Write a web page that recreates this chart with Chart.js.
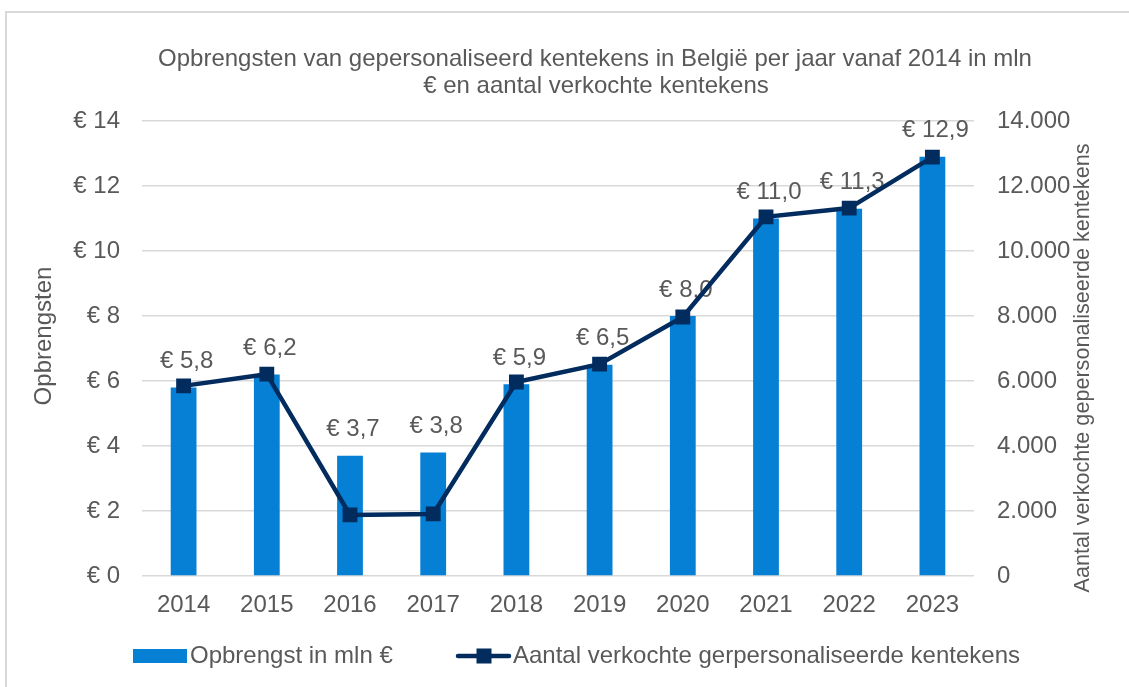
<!DOCTYPE html>
<html>
<head>
<meta charset="utf-8">
<script src="https://cdn.jsdelivr.net/npm/chart.js@4.4.1/dist/chart.umd.min.js"></script>
<style>
  html, body { margin: 0; padding: 0; background: #ffffff; }
  #wrap { width: 1129px; height: 687px; position: relative; }
</style>
</head>
<body>
<div id="wrap"><canvas id="c" width="1129" height="687"></canvas></div>
<script>
const years = ['2014', '2015', '2016', '2017', '2018', '2019', '2020', '2021', '2022', '2023'];
const revenue = [5.8, 6.2, 3.7, 3.8, 5.9, 6.5, 8.0, 11.0, 11.3, 12.9];
const platesSold = [5850, 6210, 1880, 1910, 5970, 6520, 7970, 11050, 11320, 12890];
const titleLines = ['Opbrengsten van gepersonaliseerd kentekens in België per jaar vanaf 2014 in mln', '€ en aantal verkochte kentekens'];
const seriesNames = ['Opbrengst in mln €', 'Aantal verkochte gerpersonaliseerde kentekens'];
const leftAxisTitle = 'Opbrengsten';
const rightAxisTitle = 'Aantal verkochte gepersonaliseerde kentekens';

const FONT = '"Liberation Sans", Arial, sans-serif';
const FS = 24;
const TEXT = '#595959';
const BAR = '#0580D5';
const NAVY = '#022B5E';
const GRID = '#D9D9D9';

function fmtThousands(v) {
  return String(Math.round(v)).replace(/\B(?=(\d{3})+(?!\d))/g, '.');
}
function fmtEuro(v) {
  return '€ ' + v.toFixed(1).replace('.', ',');
}

const decor = {
  id: 'decor',
  beforeDraw(chart) {
    const ctx = chart.ctx;
    ctx.save();
    ctx.fillStyle = '#ffffff';
    ctx.fillRect(0, 0, chart.width, chart.height);
    ctx.strokeStyle = '#D9D9D9';
    ctx.lineWidth = 2;
    ctx.strokeRect(6, 12, 1140, 700);
    ctx.fillStyle = TEXT;
    ctx.font = FS + 'px ' + FONT;
    ctx.textAlign = 'center';
    ctx.textBaseline = 'middle';
    ctx.fillText(titleLines[0], 595, 59);
    ctx.fillText(titleLines[1], 596, 86);
    // left axis title
    ctx.save();
    ctx.translate(44, 336);
    ctx.rotate(-Math.PI / 2);
    ctx.fillText(leftAxisTitle, 0, 0);
    ctx.restore();
    // right axis title, reading bottom to top
    ctx.save();
    ctx.font = '21.6px ' + FONT;
    ctx.translate(1083, 368);
    ctx.rotate(-Math.PI / 2);
    ctx.fillText(rightAxisTitle, 0, 0);
    ctx.restore();
    ctx.restore();
  },
  afterDatasetDraw(chart, args) {
    if (args.index !== 0) return;
    const ctx = chart.ctx;
    const meta = chart.getDatasetMeta(0);
    ctx.save();
    ctx.fillStyle = TEXT;
    ctx.font = FS + 'px ' + FONT;
    ctx.textAlign = 'center';
    ctx.textBaseline = 'middle';
    meta.data.forEach((bar, i) => {
      ctx.fillText(fmtEuro(revenue[i]), bar.x + 3, bar.y - 26);
    });
    ctx.restore();
  },
  afterDraw(chart) {
    const ctx = chart.ctx;
    ctx.save();
    const ly = 656;
    ctx.fillStyle = BAR;
    ctx.fillRect(133, ly - 7, 54, 14);
    ctx.fillStyle = TEXT;
    ctx.font = FS + 'px ' + FONT;
    ctx.textAlign = 'left';
    ctx.textBaseline = 'middle';
    ctx.fillText(seriesNames[0], 190, ly);
    ctx.strokeStyle = NAVY;
    ctx.lineWidth = 4.5;
    ctx.lineCap = 'round';
    ctx.beginPath();
    ctx.moveTo(458, ly);
    ctx.lineTo(509, ly);
    ctx.stroke();
    ctx.fillStyle = NAVY;
    ctx.fillRect(484 - 7.5, ly - 7.5, 15, 15);
    ctx.fillStyle = TEXT;
    ctx.fillText(seriesNames[1], 513, ly);
    ctx.restore();
  }
};

new Chart(document.getElementById('c'), {
  data: {
    labels: years,
    datasets: [
      {
        type: 'bar',
        label: seriesNames[0],
        data: revenue,
        backgroundColor: BAR,
        yAxisID: 'y',
        order: 2,
        barPercentage: 0.31,
        categoryPercentage: 1.0
      },
      {
        type: 'line',
        label: seriesNames[1],
        data: platesSold,
        borderColor: NAVY,
        backgroundColor: NAVY,
        borderWidth: 4.5,
        pointStyle: 'rect',
        pointRadius: 10.5,
        pointBorderWidth: 0,
        pointBackgroundColor: NAVY,
        tension: 0,
        yAxisID: 'y2',
        order: 1
      }
    ]
  },
  options: {
    responsive: false,
    animation: false,
    devicePixelRatio: 1,
    layout: { padding: { top: 121, bottom: 0, left: 0, right: 0 } },
    plugins: {
      legend: { display: false },
      title: { display: false },
      tooltip: { enabled: false }
    },
    scales: {
      x: {
        grid: { display: false },
        border: { display: false },
        ticks: { color: TEXT, font: { family: FONT, size: FS }, padding: 7, maxRotation: 0 },
        afterFit(s) { s.height = 111; }
      },
      y: {
        position: 'left',
        min: 0, max: 14,
        ticks: { stepSize: 2, color: TEXT, font: { family: FONT, size: FS }, padding: 22,
                 callback: v => '€ ' + v },
        grid: { color: GRID, lineWidth: 1.5, drawTicks: false },
        border: { display: false },
        title: { display: false },
        afterFit(s) { s.width = 142; }
      },
      y2: {
        position: 'right',
        min: 0, max: 14000,
        ticks: { stepSize: 2000, color: TEXT, font: { family: FONT, size: FS }, padding: 23,
                 callback: v => fmtThousands(v) },
        grid: { display: false, drawTicks: false },
        border: { display: false },
        title: { display: false },
        afterFit(s) { s.width = 155; }
      }
    }
  },
  plugins: [decor]
});
</script>
</body>
</html>
